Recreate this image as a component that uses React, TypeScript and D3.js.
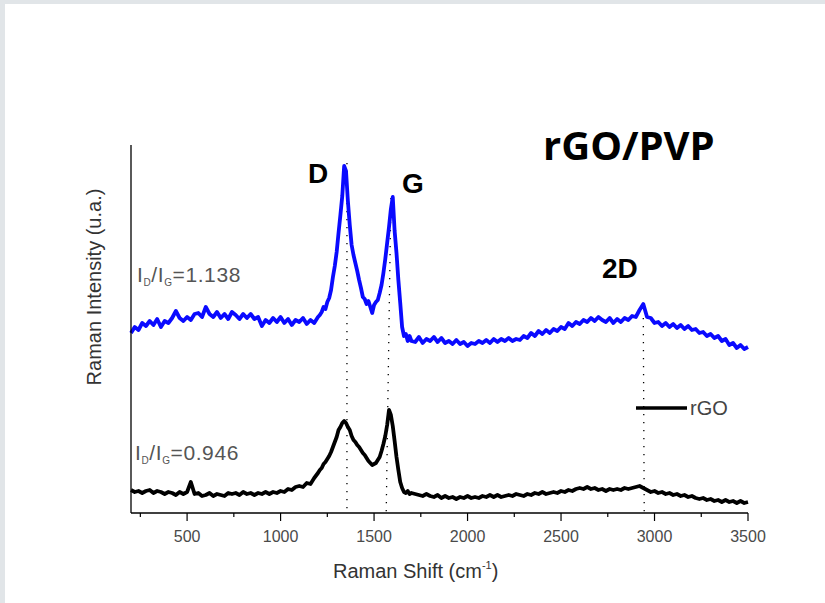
import React from "react";
import * as d3 from "d3";

// Raman shift sample positions (cm^-1)
const shifts: number[] = [
  ...d3.range(200, 1201, 20),
  ...d3.range(1210, 1701, 10),
  ...d3.range(1720, 3501, 20),
];

// rGO/PVP spectrum (a.u.)
const rgoPvp: number[] = [
  1800, 1860, 1830, 1900, 1870, 1920, 1880, 1940, 1860, 1920,
  1900, 1950, 2020, 1950, 1920, 1960, 1930, 1990, 2000, 1960,
  2060, 1990, 1960, 2010, 1950, 1990, 1940, 2010, 1980, 1940,
  1990, 1950, 1990, 1940, 1960, 1870, 1930, 1900, 1950, 1910,
  1960, 1900, 1940, 1880, 1930, 1910, 1950, 1890, 1930, 1900,
  1960,
  1980, 2010, 2060, 2040, 2110, 2150, 2230, 2360, 2470, 2610,
  2800, 2980, 3170, 3470, 3420, 3120, 2880, 2680, 2580, 2500,
  2420, 2330, 2250, 2160, 2140, 2090, 2120, 2060, 2000, 2080,
  2110, 2130, 2200, 2280, 2400, 2540, 2700, 2860, 3040, 3160,
  2820, 2600, 2330, 2100, 1860, 1770, 1790, 1720, 1770, 1720,
  1710, 1760, 1700, 1740, 1720, 1760, 1710, 1750, 1700, 1720,
  1690, 1730, 1690, 1710, 1670, 1700, 1690, 1720, 1700, 1730,
  1700, 1740, 1710, 1740, 1720, 1750, 1720, 1740, 1730, 1770,
  1750, 1800, 1770, 1820, 1790, 1830, 1800, 1840, 1820, 1860,
  1840, 1900, 1870, 1910, 1890, 1930, 1910, 1950, 1920, 1960,
  1930, 1910, 1950, 1900, 1940, 1910, 1950, 1930, 1970, 1960,
  2030, 2090, 1960, 1950, 1900, 1910, 1870, 1900, 1860, 1890,
  1850, 1880, 1840, 1870, 1830, 1840, 1800, 1810, 1770, 1790,
  1750, 1770, 1720, 1740, 1680, 1700, 1650, 1680, 1640, 1660,
];

// rGO spectrum (a.u.)
const rgo: number[] = [
  230, 210, 220, 200, 220, 230, 200, 220, 210, 190,
  210, 200, 180, 210, 190, 210, 310, 190, 200, 170,
  180, 200, 170, 190, 180, 170, 200, 190, 200, 180,
  210, 190, 200, 180, 200, 190, 210, 190, 210, 200,
  220, 210, 240, 230, 260, 270, 260, 300, 290, 350,
  400,
  430, 450, 490, 510, 540, 570, 610, 660, 710, 760,
  830, 860, 900, 920, 900, 860, 830, 770, 730, 710,
  680, 660, 630, 600, 580, 550, 520, 500, 480, 490,
  500, 530, 560, 620, 690, 770, 880, 1030, 980, 870,
  720, 560, 430, 310, 250, 210, 200, 220, 190, 200,
  190, 180, 170, 190, 170, 160, 180, 150, 170, 150,
  160, 140, 160, 150, 170, 150, 160, 150, 170, 160,
  180, 160, 180, 160, 170, 180, 170, 190, 180, 170,
  190, 180, 200, 190, 210, 190, 200, 210, 200, 220,
  210, 230, 220, 240, 250, 240, 260, 240, 250, 230,
  240, 220, 240, 230, 240, 230, 250, 240, 250, 260,
  270, 250, 230, 210, 220, 200, 210, 190, 200, 180,
  190, 170, 180, 160, 170, 150, 140, 150, 130, 140,
  120, 130, 110, 130, 110, 120, 100, 120, 100, 110,
];

// Peak marker lines: label, shift at top, shift at axis, top intensity
const markerLabels = ["D", "G", "2D"];
const markerTopShift = [1355, 1590, 2940];
const markerBottomShift = [1355, 1565, 2945];
const markerTopValue = [3500, 3150, 1950];

const majorTicks = [500, 1000, 1500, 2000, 2500, 3000, 3500];
const minorTicks = d3.range(250, 3500, 250).filter((v) => v % 500 !== 0);

const W = 825;
const H = 603;
const left = 131;
const right = 748;
const top = 145;
const bottom = 513;

export default function App() {
  const x = d3.scaleLinear().domain([200, 3500]).range([left, right]);
  const y = d3.scaleLinear().domain([0, 3680]).range([bottom, top]);

  const line = d3
    .line<number>()
    .x((_, i) => x(shifts[i]))
    .y((d) => y(d));

  const font = "'Liberation Sans', Arial, sans-serif";

  return (
    <div style={{ position: "absolute", left: 0, top: 0 }}>
      <svg width={W} height={H} style={{ display: "block" }}>
        <rect x={0} y={0} width={W} height={H} fill="#ffffff" />
        <rect x={0} y={0} width={W} height={4} fill="#e1e5e8" />
        <rect x={0} y={0} width={5} height={H} fill="#e1e5e8" />

        {/* marker dotted lines */}
        {markerLabels.map((m, i) => (
          <line
            key={m}
            x1={x(markerTopShift[i])}
            y1={y(markerTopValue[i])}
            x2={x(markerBottomShift[i])}
            y2={y(0)}
            stroke="#000"
            strokeWidth={1.3}
            strokeDasharray="1.3 6.7"
          />
        ))}

        {/* spectra */}
        <path
          d={line(rgo) || ""}
          fill="none"
          stroke="#000000"
          strokeWidth={3.8}
          strokeLinejoin="round"
        />
        <path
          d={line(rgoPvp) || ""}
          fill="none"
          stroke="#0a0aff"
          strokeWidth={3.8}
          strokeLinejoin="round"
        />

        {/* axes */}
        <line x1={left} y1={top} x2={left} y2={bottom} stroke="#000" strokeWidth={1.3} />
        <line x1={left} y1={bottom} x2={right} y2={bottom} stroke="#000" strokeWidth={1.3} />
        {majorTicks.map((t) => (
          <g key={"M" + t}>
            <line x1={x(t)} y1={bottom} x2={x(t)} y2={bottom + 8} stroke="#000" strokeWidth={1.2} />
            <text
              x={x(t)}
              y={542}
              textAnchor="middle"
              fontFamily={font}
              fontSize={16}
              fill="#4a4a4a"
            >
              {t}
            </text>
          </g>
        ))}
        {minorTicks.map((t) => (
          <line key={"m" + t} x1={x(t)} y1={bottom} x2={x(t)} y2={bottom + 4} stroke="#000" strokeWidth={1.2} />
        ))}

        {/* axis titles */}
        <text x={333} y={578} fontFamily={font} fontSize={20} fill="#333">
          Raman Shift (cm
          <tspan fontSize={11} dy={-9}>-1</tspan>
          <tspan dy={9}>)</tspan>
        </text>
        <text
          transform="translate(101,287) rotate(-90)"
          textAnchor="middle"
          fontFamily={font}
          fontSize={20}
          fill="#333"
        >
          Raman Intensity (u.a.)
        </text>

        {/* peak labels */}
        <text x={308} y={183} fontFamily={font} fontWeight="bold" fontSize={28} fill="#000">D</text>
        <text x={402} y={193} fontFamily={font} fontWeight="bold" fontSize={28} fill="#000">G</text>
        <text x={602} y={278} fontFamily={font} fontWeight="bold" fontSize={28} fill="#000">2D</text>

        {/* ratio labels */}
        <text x={137} y={282} fontFamily={font} fontSize={21} fill="#555" letterSpacing={0.6}>
          I<tspan fontSize={10} dy={4}>D</tspan>
          <tspan dy={-4}>/I</tspan>
          <tspan fontSize={10} dy={4}>G</tspan>
          <tspan dy={-4}>=1.138</tspan>
        </text>
        <text x={135} y={460} fontFamily={font} fontSize={21} fill="#555" letterSpacing={0.6}>
          I<tspan fontSize={10} dy={4}>D</tspan>
          <tspan dy={-4}>/I</tspan>
          <tspan fontSize={10} dy={4}>G</tspan>
          <tspan dy={-4}>=0.946</tspan>
        </text>

        {/* legend */}
        <line x1={636} y1={408} x2={687} y2={408} stroke="#000" strokeWidth={3.4} />
        <text x={690} y={415} fontFamily={font} fontSize={20} fill="#444">rGO</text>

        {/* title */}
        <text
          x={543}
          y={160}
          fontFamily="'Open Sans', sans-serif"
          fontWeight="bold"
          fontSize={40}
          fill="#000"
        >
          rGO/PVP
        </text>
      </svg>
    </div>
  );
}
